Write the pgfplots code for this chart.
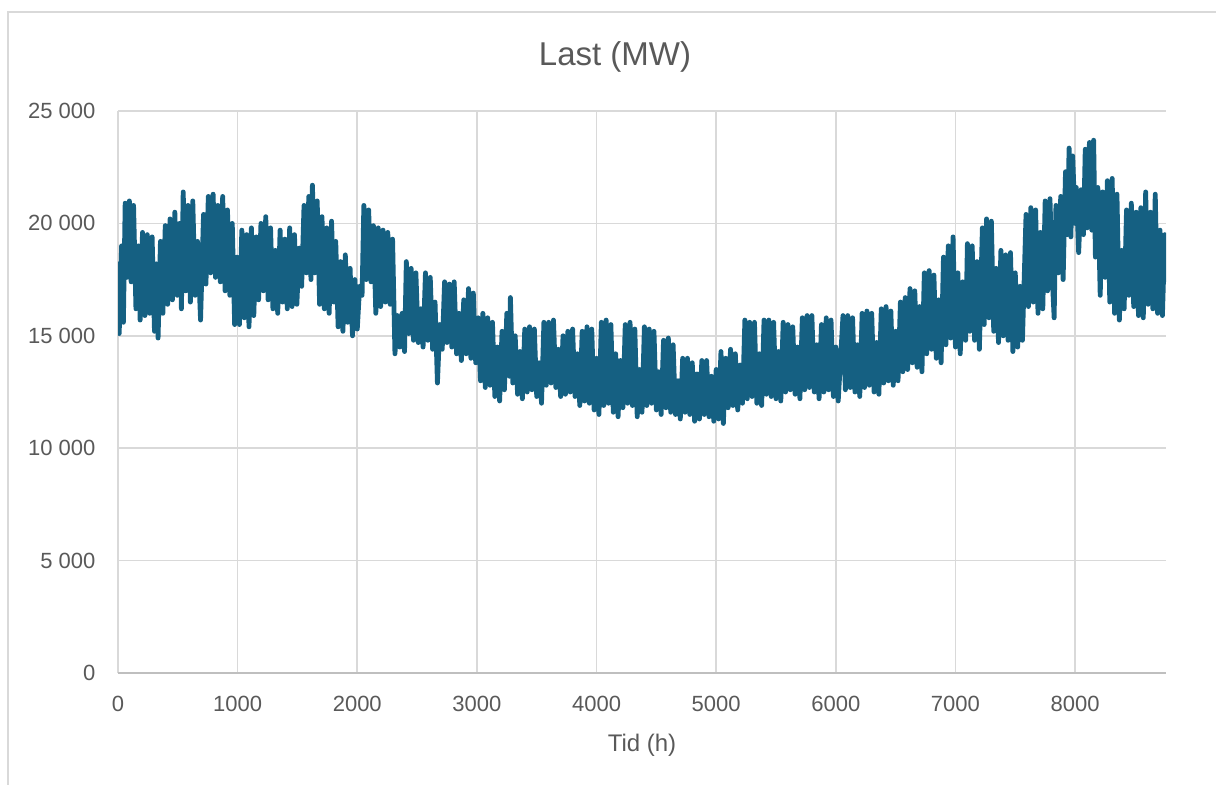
\documentclass[border=0pt]{standalone}
\usepackage{pgfplots}
\pgfplotsset{compat=1.18}
\usepackage{fontspec}
\setmainfont{Liberation Sans}
\definecolor{txt}{HTML}{595959}
\definecolor{grd}{HTML}{D9D9D9}
\definecolor{axl}{HTML}{BFBFBF}
\definecolor{ser}{HTML}{156082}
\begin{document}
\begin{tikzpicture}
\useasboundingbox (0,0) rectangle (608pt,-392.5pt);
\draw[grd,line width=0.6pt] (4pt,-400pt) -- (4pt,-6pt) -- (620pt,-6pt);
\begin{axis}[
  at={(59pt,-336.5pt)}, anchor=south west,
  scale only axis, width=524pt, height=281pt,
  xmin=0, xmax=8760, ymin=0, ymax=25000,
  scaled x ticks=false, scaled y ticks=false,
  xtick={0,1000,...,8000},
  xticklabels={0,1000,2000,3000,4000,5000,6000,7000,8000},
  ytick={0,5000,...,25000},
  yticklabels={0,5 000,10 000,15 000,20 000,25 000},
  /pgf/number format/assume math mode=true,
  major tick length=0pt,
  axis x line*=bottom, axis y line*=left,
  x axis line style={draw=axl, line width=0.8pt, -},
  y axis line style={draw=none},
  grid=major, major grid style={grd, line width=0.8pt},
  ticklabel style={font=\fontsize{11}{13}\selectfont, text=txt},
  xticklabel style={yshift=-8pt},
  yticklabel style={xshift=-7.8pt},
  every axis title shift=0pt,
  title={Last (MW)},
  title style={font=\fontsize{16.5}{19}\selectfont, text=txt, at={(axis description cs:0.5,1)}, anchor=center, yshift=27pt, xshift=-13.5pt},
  xlabel={Tid (h)},
  xlabel style={font=\fontsize{12}{14}\selectfont, text=txt, at={(axis description cs:0.5,0)}, anchor=center, yshift=-36pt},
]
\addplot[ser, line width=2.4pt, line join=round, line cap=round, no marks] coordinates {
(0,18200) (10,15100) (30,19000) (45,15600) (60,20900) (75,17600) (95,21000) (110,17400) (130,20800) (150,16200)
(170,19000) (185,15700) (205,19600) (225,15900) (245,19500) (265,16000) (285,19400) (305,15200) (320,18200) (335,14900)
(355,19200) (375,16000) (395,19900) (415,16400) (435,20200) (455,16600) (475,20500) (495,16800) (515,20000) (530,16200)
(545,21400) (565,17000) (585,20800) (605,16500) (625,21000) (645,16800) (665,19200) (690,15700) (715,20400) (735,17300)
(755,21200) (775,17800) (795,21300) (815,17600) (835,20800) (855,17400) (875,21200) (895,17000) (915,20600) (935,16800)
(955,20000) (975,15500) (995,18500)
(1015,15500) (1035,19700) (1055,15800) (1075,19500) (1095,15400) (1115,19800) (1135,15900) (1155,19400) (1175,16600) (1195,20000)
(1215,17000) (1235,20300) (1255,16600) (1275,19800) (1295,16200) (1315,18800) (1335,16000) (1355,19700) (1375,16500) (1395,19300)
(1415,16200) (1435,19800) (1455,16300) (1475,19500) (1495,16400) (1515,18900) (1535,17200) (1555,20800) (1575,17800) (1595,21200)
(1613,17500) (1625,21700) (1645,17800) (1665,21000)
(1685,16400) (1705,20300) (1725,16200) (1745,19800) (1765,16000) (1785,20100) (1805,16500) (1820,19200) (1840,15400) (1860,18300)
(1880,15200) (1900,18600) (1920,15600) (1940,18000) (1960,15000) (1980,17500) (2000,15300) (2020,17200) (2040,16800) (2055,20800)
(2075,17500) (2095,20600) (2115,17400) (2135,19900) (2155,16000) (2175,19800) (2195,16300) (2215,19700) (2235,16500) (2255,19600)
(2275,16400) (2295,19300) (2315,14200) (2335,15900) (2355,14500) (2375,16000) (2395,14300) (2410,18300) (2430,15100) (2450,18000)
(2470,14800) (2490,17800) (2510,14700) (2530,16200) (2550,14500) (2570,17800) (2590,14800) (2610,17600) (2630,14400) (2650,16500)
(2670,12900) (2690,15500) (2710,14400) (2730,17400) (2750,14700) (2770,17300) (2790,14500) (2810,17400) (2830,14200) (2850,16000)
(2870,13900) (2890,16600) (2910,14200) (2930,17100) (2950,14000) (2970,16900) (2990,13800) (3010,15800)
(3030,13000) (3050,16000) (3070,12700) (3090,15800) (3110,12800) (3130,15600) (3150,12300) (3170,14500) (3190,12100) (3210,15200)
(3230,12600) (3250,16000) (3272,13200) (3280,16700) (3300,12900) (3320,15000) (3340,12400) (3360,14300) (3380,12200) (3400,15300)
(3420,12500) (3440,15400) (3460,12600) (3480,15300) (3500,12300) (3520,13800) (3540,12000) (3560,15600) (3580,12800) (3600,15600)
(3620,12900) (3640,15700) (3660,12700) (3680,14400) (3700,12300) (3720,15000) (3740,12400) (3760,15200) (3780,12500) (3800,15300)
(3820,12300) (3840,14200) (3860,11900) (3880,15200) (3900,12100) (3920,15400) (3940,12000) (3960,15300) (3980,11700) (4000,14000)
(4020,11500) (4040,15600) (4060,11900) (4080,15700) (4100,12000) (4120,15500) (4140,11600) (4160,14200) (4180,11400) (4200,13900)
(4220,11800) (4240,15500) (4260,12000) (4280,15600) (4300,11900) (4320,15300) (4340,11400) (4360,13500) (4380,11600) (4400,15400)
(4420,11900) (4440,15300) (4460,12000) (4480,15200) (4500,11700) (4520,13400) (4540,11500) (4560,14800) (4580,11800) (4600,14900)
(4620,11600) (4640,14600) (4660,11500) (4680,13000) (4700,11300) (4720,14000) (4740,11600) (4760,14000) (4780,11500) (4800,13800)
(4820,11200) (4840,13300) (4860,11300) (4880,13900) (4900,11500) (4920,13900) (4940,11400) (4960,13200) (4980,11200) (5000,13500)
(5020,11300) (5040,14300) (5060,11100) (5080,14000) (5100,11800) (5120,14400) (5140,11900) (5160,14200) (5180,11700) (5200,13700)
(5220,12000) (5240,15700) (5260,12200) (5280,15600) (5300,12300) (5320,15600) (5340,12000) (5360,14200) (5380,11900) (5400,15700)
(5420,12400) (5440,15700) (5460,12300) (5480,15600) (5500,12200) (5520,14300) (5540,12100) (5560,15600) (5580,12500) (5600,15500)
(5620,12600) (5640,15400) (5660,12400) (5680,14500) (5700,12200) (5720,15800) (5740,12600) (5760,15900) (5780,12700) (5800,15900)
(5820,12500) (5840,14600) (5860,12200) (5880,15500) (5900,12500) (5920,15800) (5940,12600) (5960,15700) (5980,12300) (6000,14500)
(6020,12100) (6060,15900) (6080,12600) (6100,15900) (6120,12700) (6140,15800) (6160,12500) (6180,14600) (6200,12300) (6220,16000)
(6240,12700) (6260,16100) (6280,12800) (6300,16000) (6320,12500) (6340,14700) (6360,12400) (6380,16200) (6400,12900) (6420,16300)
(6440,13000) (6460,16100) (6480,12800) (6500,15200) (6520,13000) (6540,16500) (6560,13400) (6580,16700)
(6600,13500) (6620,17100) (6640,13800) (6660,17000) (6680,13600) (6700,16300) (6720,13400) (6740,17800) (6760,14200) (6780,17900)
(6800,14400) (6820,17700) (6840,14000) (6860,16600) (6880,13800) (6900,18500) (6920,14600) (6940,19000) (6960,14900) (6980,19400)
(7000,14500) (7020,17800) (7040,14200) (7060,17400) (7085,14800) (7100,19100) (7120,15200) (7140,19000) (7160,14800) (7180,18300)
(7200,14400) (7225,19800) (7240,15500) (7260,20200) (7280,15800) (7300,20100) (7320,15200) (7340,18000) (7360,14700) (7380,18800)
(7400,15000) (7420,18600) (7440,14800) (7460,18700) (7480,14300) (7500,17800) (7520,14500) (7540,17200) (7560,14800) (7590,20400)
(7610,16300) (7630,20700) (7650,16500) (7670,20600) (7690,16000) (7710,19600) (7730,16200) (7750,21000) (7770,17000) (7790,21100)
(7810,17500) (7825,15800) (7840,20800) (7860,17800) (7880,21200) (7900,17500) (7920,22300) (7935,19500) (7950,23350) (7965,19400)
(7980,23000) (8000,20000) (8010,21600) (8030,18700) (8050,21500) (8070,19500) (8085,23300) (8100,19800) (8120,23600) (8140,19700)
(8155,23700) (8170,18500) (8190,21600) (8210,16800) (8230,21400) (8250,17600) (8270,21900) (8290,16500) (8310,22000) (8330,16000)
(8350,21300) (8370,15700) (8390,18800) (8410,16200) (8430,20600) (8450,16800) (8470,20900) (8490,16300) (8510,20500) (8530,15900)
(8550,20700) (8570,15800) (8590,21400) (8610,16400) (8630,20500) (8650,16200) (8670,21300) (8690,16000) (8710,19700) (8730,15900)
(8750,19500) (8760,17500)
};
\end{axis}
\end{tikzpicture}
\end{document}
